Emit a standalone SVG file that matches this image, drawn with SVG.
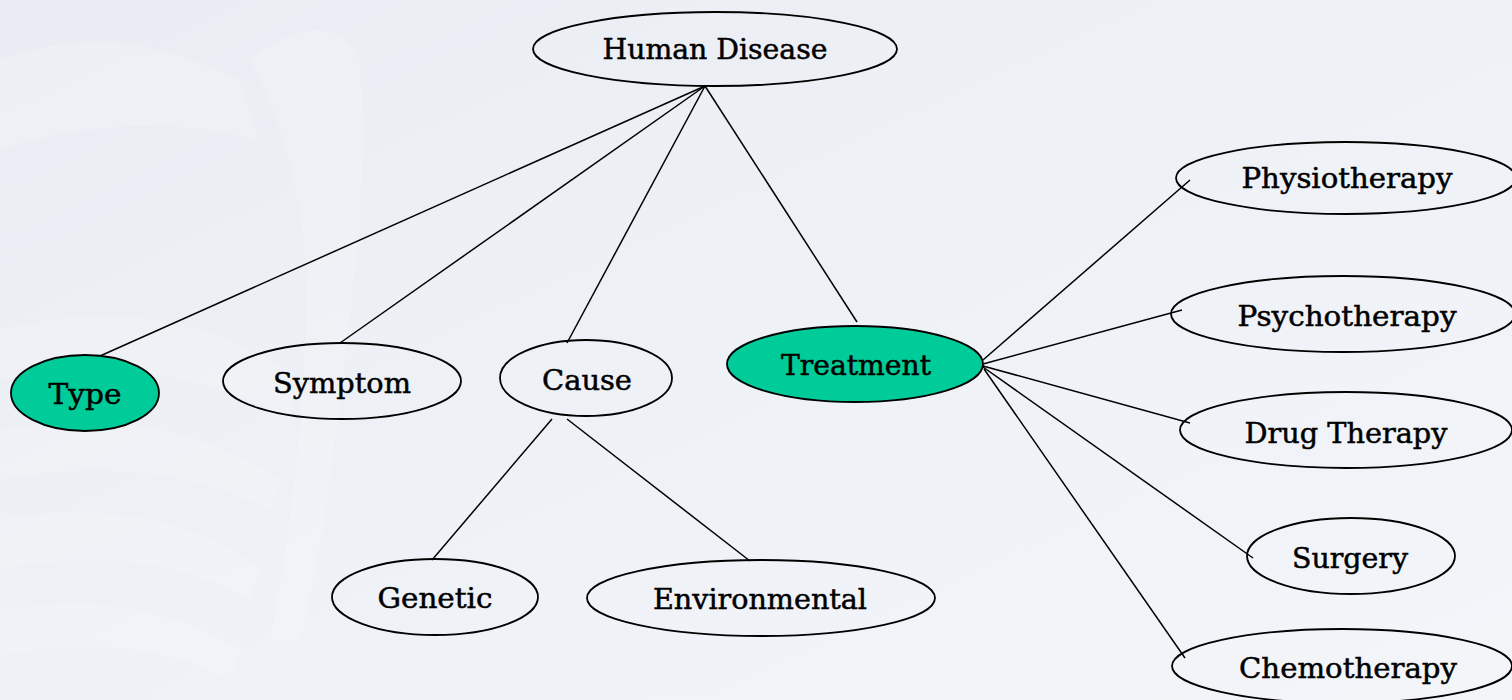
<svg xmlns="http://www.w3.org/2000/svg" width="1512" height="700" viewBox="0 0 1512 700">
<defs>
<linearGradient id="bg" x1="0" y1="0" x2="1" y2="1">
<stop offset="0" stop-color="#e9ecf2"/>
<stop offset="0.5" stop-color="#eef1f6"/>
<stop offset="1" stop-color="#f3f5f9"/>
</linearGradient>
<style>
.n{fill:none;stroke:#000;stroke-width:1.8}
.g{fill:#00cc99;stroke:#000;stroke-width:1.8}
.t{font-family:"DejaVu Serif","Liberation Serif",serif;font-size:28px;fill:#000;stroke:#000;stroke-width:0.5;text-anchor:middle}
.c line{stroke:#000;stroke-width:1.5}
.ghost{fill:#ffffff;opacity:0.16}
</style>
</defs>
<rect width="1512" height="700" fill="url(#bg)"/>
<g id="background-art">
<path class="ghost" d="M0,60 C80,30 160,40 240,80 L260,140 C180,120 90,120 0,150 Z"/>
<path class="ghost" d="M0,330 C120,300 220,320 300,380 L290,420 C200,370 100,360 0,380 Z"/>
<path class="ghost" d="M0,430 C110,410 210,430 280,480 L270,510 C190,470 100,460 0,480 Z"/>
<path class="ghost" d="M0,520 C100,500 200,520 260,570 L250,600 C180,560 90,550 0,570 Z"/>
<path class="ghost" d="M0,610 C90,595 180,610 240,650 L230,680 C170,645 80,640 0,655 Z"/>
<path class="ghost" d="M250,60 C300,20 340,20 360,60 C370,200 350,300 340,400 C330,480 320,560 300,640 L270,640 C290,540 300,440 305,350 C310,250 300,150 250,60 Z"/>
</g>
<g id="connectors" class="c">
<line x1="705" y1="86" x2="100" y2="356"/>
<line x1="705" y1="86" x2="340" y2="343"/>
<line x1="705" y1="86" x2="567" y2="343"/>
<line x1="705" y1="86" x2="857" y2="322"/>
<line x1="552" y1="419" x2="432" y2="560"/>
<line x1="567" y1="419" x2="750" y2="561"/>
<line x1="983" y1="360" x2="1190" y2="180"/>
<line x1="983" y1="364" x2="1182" y2="310"/>
<line x1="983" y1="366" x2="1190" y2="423"/>
<line x1="983" y1="367" x2="1253" y2="558"/>
<line x1="984" y1="369" x2="1185" y2="658"/>
</g>
<g id="human-disease"><ellipse class="n" cx="715" cy="49" rx="182" ry="37"/><text class="t" x="715" y="59" textLength="225" lengthAdjust="spacingAndGlyphs">Human Disease</text></g>
<g id="type"><ellipse class="g" cx="85" cy="393" rx="74" ry="38"/><text class="t" x="85" y="404" textLength="73" lengthAdjust="spacingAndGlyphs">Type</text></g>
<g id="symptom"><ellipse class="n" cx="342" cy="381" rx="119" ry="38"/><text class="t" x="342" y="393" textLength="138" lengthAdjust="spacingAndGlyphs">Symptom</text></g>
<g id="cause"><ellipse class="n" cx="586" cy="378" rx="86" ry="38"/><text class="t" x="587" y="390" textLength="90" lengthAdjust="spacingAndGlyphs">Cause</text></g>
<g id="treatment"><ellipse class="g" cx="855" cy="364" rx="128" ry="38"/><text class="t" x="856" y="375" textLength="150" lengthAdjust="spacingAndGlyphs">Treatment</text></g>
<g id="genetic"><ellipse class="n" cx="435" cy="597" rx="103" ry="38"/><text class="t" x="435" y="608" textLength="115" lengthAdjust="spacingAndGlyphs">Genetic</text></g>
<g id="environmental"><ellipse class="n" cx="761" cy="598" rx="174" ry="38"/><text class="t" x="760" y="609" textLength="214" lengthAdjust="spacingAndGlyphs">Environmental</text></g>
<g id="physiotherapy"><ellipse class="n" cx="1346" cy="178" rx="170" ry="36"/><text class="t" x="1347" y="188" textLength="211" lengthAdjust="spacingAndGlyphs">Physiotherapy</text></g>
<g id="psychotherapy"><ellipse class="n" cx="1343" cy="314" rx="172" ry="38"/><text class="t" x="1347" y="326" textLength="219" lengthAdjust="spacingAndGlyphs">Psychotherapy</text></g>
<g id="drug-therapy"><ellipse class="n" cx="1346" cy="430" rx="166" ry="38"/><text class="t" x="1346" y="443" textLength="203" lengthAdjust="spacingAndGlyphs">Drug Therapy</text></g>
<g id="surgery"><ellipse class="n" cx="1351" cy="556" rx="104" ry="38"/><text class="t" x="1350" y="568" textLength="116" lengthAdjust="spacingAndGlyphs">Surgery</text></g>
<g id="chemotherapy"><ellipse class="n" cx="1342" cy="666" rx="170" ry="37"/><text class="t" x="1348" y="678" textLength="218" lengthAdjust="spacingAndGlyphs">Chemotherapy</text></g>
</svg>
